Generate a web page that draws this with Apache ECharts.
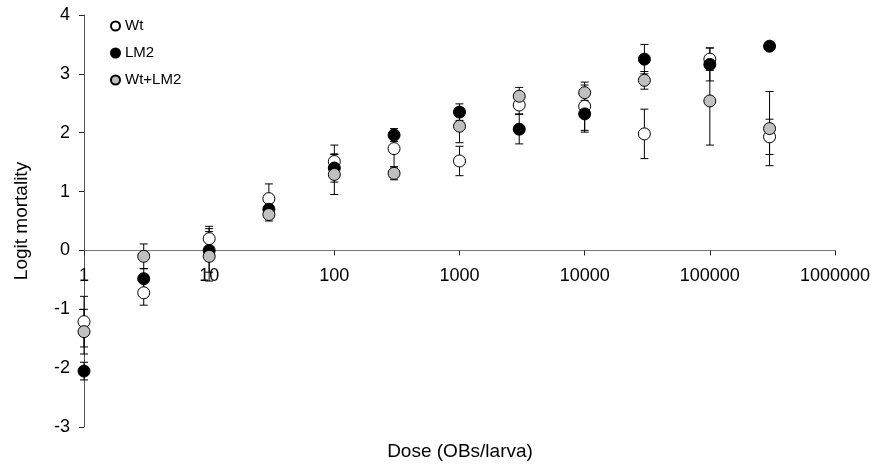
<!DOCTYPE html>
<html>
<head>
<meta charset="utf-8">
<script src="https://cdn.jsdelivr.net/npm/echarts@6/dist/echarts.min.js"></script>
<style>html,body{margin:0;padding:0;background:#fff;}#c{width:875px;height:468px;}</style>
</head>
<body>
<div id="c"></div>
<script>
const doses = [1, 3, 10, 30, 100, 300, 1000, 3000, 10000, 30000, 100000, 300000];
const wtMean = [-1.21, -0.72, 0.20, 0.88, 1.51, 1.73, 1.52, 2.47, 2.45, 1.98, 3.25, 1.93];
const wtErr  = [0.43, 0.21, 0.21, 0.25, 0.28, 0.31, 0.25, 0.15, 0.41, 0.42, 0.19, 0.30];
const lm2Mean = [-2.05, -0.48, 0.00, 0.70, 1.40, 1.96, 2.35, 2.06, 2.32, 3.25, 3.16, 3.47];
const lm2Err  = [0.15, 0.17, 0.37, 0.10, 0.24, 0.11, 0.14, 0.25, 0.31, 0.25, 0.28, 0];
const mixMean = [-1.38, -0.10, -0.10, 0.61, 1.29, 1.31, 2.11, 2.62, 2.68, 2.89, 2.54, 2.07];
const mixErr  = [0.38, 0.21, 0.42, 0.11, 0.34, 0.11, 0.28, 0.15, 0.13, 0.15, 0.75, 0.63];
const xTickLabels = ['1', '10', '100', '1000', '10000', '100000', '1000000'];
const yTickLabels = ['-3', '-2', '-1', '0', '1', '2', '3', '4'];
const seriesNames = ['Wt', 'LM2', 'Wt+LM2'];
const yTitle = 'Logit mortality';
const xTitle = 'Dose (OBs/larva)';

const FONT = 'Liberation Sans, Arial, Helvetica, sans-serif';
const Y_MIN = -3, Y_MAX = 4;
const GRID = { left: 84, top: 15, width: 751, height: 412 };
// shift the x axis up so it crosses the y axis at 0
const xAxisOffset = -GRID.height * (0 - Y_MIN) / (Y_MAX - Y_MIN);

function pts(mean) { return doses.map((d, i) => [d, mean[i]]); }
function errPts(mean, err) { return doses.map((d, i) => [d, mean[i], err[i]]); }

function errRender(params, api) {
  const x = api.value(0), y = api.value(1), e = api.value(2);
  if (!e) return null;
  const top = api.coord([x, y + e]);
  const bot = api.coord([x, y - e]);
  const w = 4;
  const st = { stroke: '#000', lineWidth: 1 };
  return {
    type: 'group',
    children: [
      { type: 'line', shape: { x1: top[0], y1: top[1], x2: bot[0], y2: bot[1] }, style: st },
      { type: 'line', shape: { x1: top[0] - w, y1: top[1], x2: top[0] + w, y2: top[1] }, style: st },
      { type: 'line', shape: { x1: bot[0] - w, y1: bot[1], x2: bot[0] + w, y2: bot[1] }, style: st }
    ]
  };
}

const fills = ['#ffffff', '#000000', '#c0c0c0'];
const means = [wtMean, lm2Mean, mixMean];
const errs = [wtErr, lm2Err, mixErr];

const series = [];
errs.forEach((e, k) => {
  series.push({
    type: 'custom', name: 'err' + k, renderItem: errRender,
    data: errPts(means[k], e), z: 1, silent: true,
    encode: { x: 0, y: 1 }
  });
});
means.forEach((m, k) => {
  series.push({
    type: 'scatter', name: seriesNames[k], data: pts(m),
    symbol: 'circle', symbolSize: 12, z: 2 + k,
    itemStyle: { color: fills[k], borderColor: '#000', borderWidth: 1, opacity: 1 }
  });
});

const chart = echarts.init(document.getElementById('c'), null, { renderer: 'canvas' });
chart.setOption({
  animation: false,
  backgroundColor: '#fff',
  textStyle: { fontFamily: FONT },
  grid: Object.assign({ containLabel: false }, GRID),
  legend: {
    data: seriesNames, orient: 'vertical', left: 110, top: 18, padding: 0,
    itemWidth: 9, itemHeight: 9, itemGap: 11,
    textStyle: { fontSize: 15, color: '#000', fontFamily: FONT, lineHeight: 16 },
    selectedMode: false
  },
  xAxis: {
    type: 'log', logBase: 10, min: 1, max: 1000000,
    position: 'bottom', offset: xAxisOffset,
    axisLine: { onZero: false, lineStyle: { color: '#777', width: 1 } },
    axisTick: { show: true, length: 5, lineStyle: { color: '#222' } },
    axisLabel: {
      fontSize: 18, color: '#000', margin: 17, fontFamily: FONT,
      formatter: v => {
        const i = Math.round(Math.log10(v));
        return xTickLabels[i] !== undefined ? xTickLabels[i] : '';
      }
    },
    splitLine: { show: false }, minorTick: { show: false }
  },
  yAxis: {
    type: 'value', min: Y_MIN, max: Y_MAX, interval: 1,
    name: yTitle, nameLocation: 'middle', nameGap: 53,
    nameTextStyle: { fontSize: 19, color: '#000', fontFamily: FONT },
    axisLine: { show: true, onZero: false, lineStyle: { color: '#555', width: 1 } },
    axisTick: { show: true, length: 5, lineStyle: { color: '#222' } },
    axisLabel: {
      fontSize: 18, color: '#000', margin: 14, fontFamily: FONT,
      formatter: v => yTickLabels[Math.round(v) - Y_MIN]
    },
    splitLine: { show: false }
  },
  graphic: [{
    type: 'text', x: 460, y: 452,
    style: { text: xTitle, fill: '#000', font: '19px ' + FONT, textAlign: 'center', textVerticalAlign: 'middle' }
  }],
  series: series
});
</script>
</body>
</html>
